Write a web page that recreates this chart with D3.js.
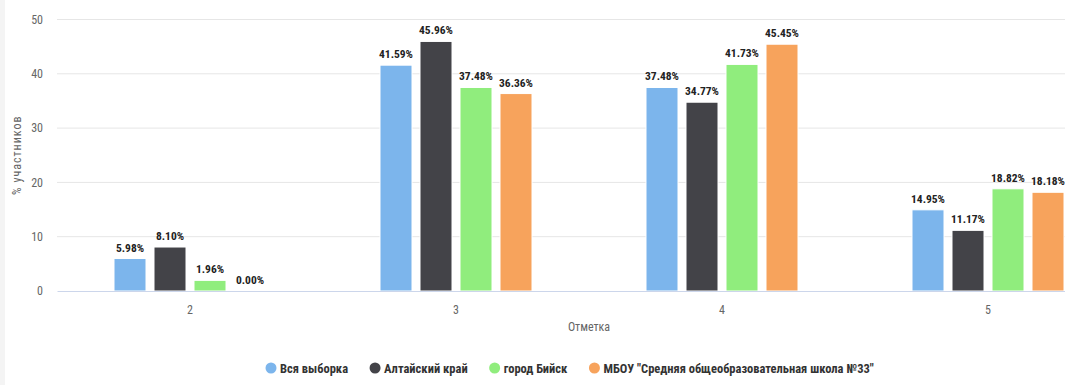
<!DOCTYPE html>
<meta charset="utf-8">
<title>Отметки</title>
<style>
  body {
    margin: 0;
    padding: 0;
    overflow: hidden;
    background-color: #fff;
  }

  text {
    font-family: Roboto, sans-serif;
    font-stretch: condensed;
  }

  .tick text {
    font-size: 12px;
    fill: #666;
  }

  .label {
    font-size: 11.5px;
    font-weight: bold;
    fill: #222;
  }

  .legend text {
    font-size: 12.5px;
    font-weight: bold;
    fill: #333;
  }

  .title {
    font-size: 12px;
    fill: #666;
  }
</style>

<body>
  <script src="https://cdn.jsdelivr.net/npm/d3@7"></script>
  <script>
    var categories = ["2", "3", "4", "5"];
    var seriesNames = ["Вся выборка", "Алтайский край", "город Бийск", "МБОУ \"Средняя общеобразовательная школа №33\""];
    var colors = ["#7cb5ec", "#434348", "#90ed7d", "#f7a35c"];
    var vsya = [5.98, 41.59, 37.48, 14.95];
    var altai = [8.10, 45.96, 34.77, 11.17];
    var biysk = [1.96, 37.48, 41.73, 18.82];
    var school = [0.00, 36.36, 45.45, 18.18];
    var yTicks = [0, 10, 20, 30, 40, 50];

    var series = [vsya, altai, biysk, school];

    var width = 1065,
      height = 385;

    // plot area runs past the right edge, like in the cropped original
    var plotL = 57, plotR = 1121, plotT = 19.5, plotB = 291;

    var svg = d3.select("body").append("svg")
      .attr("width", width)
      .attr("height", height);

    svg.append("rect")
      .attr("width", 5).attr("height", height)
      .attr("fill", "#f4f4f4");

    var x = d3.scaleBand().domain(categories).range([plotL, plotR]);
    var xs = d3.scaleBand().domain(d3.range(series.length))
      .range([-76, 76]).paddingInner(0.2);
    var y = d3.scaleLinear().domain([0, 50]).range([plotB, plotT]);

    // grid
    svg.append("g").selectAll("line").data(yTicks.slice(1))
      .enter().append("line")
      .attr("x1", plotL).attr("x2", plotR)
      .attr("y1", d => y(d)).attr("y2", d => y(d))
      .attr("stroke", "#e6e6e6");

    var yAxis = svg.append("g")
      .attr("transform", `translate(${plotL - 14},0)`)
      .call(d3.axisLeft(y).tickValues(yTicks).tickSize(0).tickPadding(0));
    yAxis.select(".domain").remove();

    svg.append("text")
      .attr("class", "title")
      .attr("transform", `translate(21,${(plotT + plotB) / 2}) rotate(-90)`)
      .attr("text-anchor", "middle")
      .style("letter-spacing", "1px")
      .text("% участников");

    // bars
    var groups = svg.append("g").selectAll("g").data(series)
      .enter().append("g")
      .attr("fill", (d, i) => colors[i]);

    groups.selectAll("rect").data((d, i) => d.map((v, j) => ({ v: v, s: i, c: categories[j] })))
      .enter().append("rect")
      .attr("x", d => x(d.c) + x.bandwidth() / 2 + xs(d.s))
      .attr("width", xs.bandwidth())
      .attr("y", d => y(d.v))
      .attr("height", d => plotB - y(d.v))
      .attr("stroke", "#fff")
      .attr("stroke-width", 1);

    groups.selectAll("text").data((d, i) => d.map((v, j) => ({ v: v, s: i, c: categories[j] })))
      .enter().append("text")
      .attr("class", "label")
      .attr("text-anchor", "middle")
      .attr("x", d => x(d.c) + x.bandwidth() / 2 + xs(d.s) + xs.bandwidth() / 2)
      .attr("y", d => y(d.v) - 7)
      .text(d => d.v.toFixed(2) + "%");

    var xAxis = svg.append("g")
      .attr("transform", `translate(0,${plotB})`)
      .call(d3.axisBottom(x).tickSize(0).tickPadding(14));
    xAxis.select(".domain").attr("stroke", "#ccd6eb");

    svg.append("text")
      .attr("class", "title")
      .attr("x", (plotL + plotR) / 2)
      .attr("y", 331)
      .attr("text-anchor", "middle")
      .text("Отметка");

    // legend
    var legend = svg.append("g").attr("class", "legend")
      .attr("transform", "translate(271,368)");
    var lx = 0;
    seriesNames.forEach((name, i) => {
      var item = legend.append("g").attr("transform", `translate(${lx},0)`);
      item.append("circle").attr("r", 5.5).attr("fill", colors[i]);
      var t = item.append("text").attr("x", 9).attr("y", 4.5).text(name);
      lx += 9 + t.node().getComputedTextLength() + 27;
    });
  </script>
</body>
